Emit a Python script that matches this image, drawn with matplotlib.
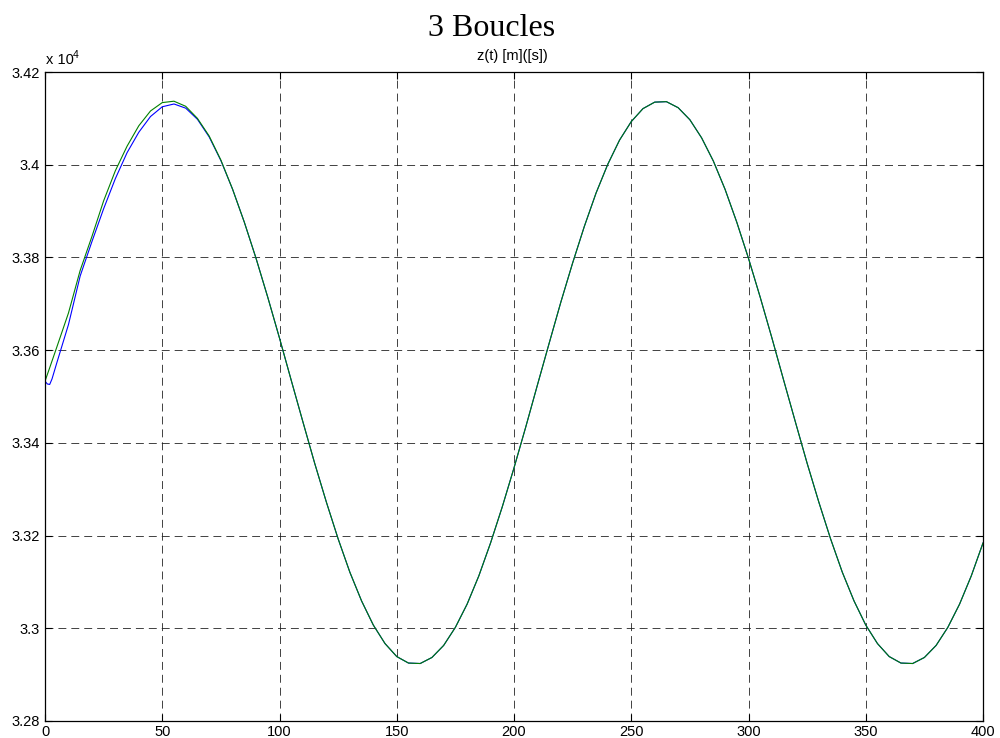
import matplotlib
matplotlib.use('Agg')
import matplotlib.pyplot as plt

# z(t) in units of 1e4 m
t_green_start = [0, 2, 5, 10, 15, 20, 25, 30, 35, 40, 45, 50, 55, 60, 65, 70, 75]
z_green_start = [3.3533, 3.3562, 3.3606, 3.3680, 3.3772, 3.3845, 3.3922, 3.3987,
                 3.4040, 3.4084, 3.4116, 3.4134, 3.4137, 3.4126, 3.4100, 3.4062, 3.4010]

t_blue_start = [0, 1, 2, 3, 5, 10, 15, 20, 25, 30, 35, 40, 45, 50, 55, 60, 65, 70, 75]
z_blue_start = [3.3533, 3.3527, 3.3526, 3.3538, 3.3572, 3.3655, 3.3760, 3.3834,
                3.3905, 3.3970, 3.4026, 3.4070, 3.4104, 3.4125, 3.4131, 3.4122,
                3.4098, 3.4060, 3.4009]

# both runs overlap from here on
t_common = list(range(80, 401, 5))
z_common = [3.3947, 3.3876, 3.3798, 3.3714, 3.3626, 3.3535, 3.3445, 3.3356,
            3.3272, 3.3193, 3.3121, 3.3059, 3.3007, 3.2967, 3.2939, 3.2925,
            3.2924, 3.2937, 3.2963, 3.3002, 3.3052, 3.3113, 3.3184, 3.3262,
            3.3346, 3.3434, 3.3525, 3.3615, 3.3704, 3.3788, 3.3867, 3.3939,
            3.4001, 3.4053, 3.4093, 3.4121, 3.4135, 3.4136, 3.4123, 3.4097,
            3.4058, 3.4008, 3.3947, 3.3876, 3.3798, 3.3714, 3.3626, 3.3535,
            3.3445, 3.3356, 3.3272, 3.3193, 3.3121, 3.3059, 3.3007, 3.2967,
            3.2939, 3.2925, 3.2924, 3.2937, 3.2963, 3.3002, 3.3052, 3.3113,
            3.3184]

x_ticks = [0, 50, 100, 150, 200, 250, 300, 350, 400]
y_ticks = [3.28, 3.30, 3.32, 3.34, 3.36, 3.38, 3.40, 3.42]
y_tick_labels = ['3.28', '3.3', '3.32', '3.34', '3.36', '3.38', '3.4', '3.42']

font = 'Liberation Sans'

fig = plt.figure(figsize=(10, 7.38), dpi=100)
fig.patch.set_facecolor('white')
ax = fig.add_axes([0.045, 17 / 738, 0.938, 649 / 738])

ax.plot(t_blue_start + t_common, z_blue_start + z_common, color='#0000ff', lw=0.8)
ax.plot(t_green_start + t_common, z_green_start + z_common, color='#008000', lw=0.8)

ax.set_xlim(0, 400)
ax.set_ylim(3.28, 3.42)
ax.set_xticks(x_ticks)
ax.set_xticklabels([str(v) for v in x_ticks], family=font)
ax.set_yticks(y_ticks)
ax.set_yticklabels(y_tick_labels, family=font)
ax.tick_params(direction='in', length=5, width=0.8, top=True, right=True,
               labelsize=10.5, colors='black')
ax.tick_params(axis='x', pad=3)
ax.tick_params(axis='y', pad=3.6)
# MATLAB-like long dashes (pattern is scaled by the 0.6 line width)
ax.grid(True, color='#222222', lw=0.6, linestyle=(0, (9.5, 6)))
ax.set_axisbelow(True)
for s in ax.spines.values():
    s.set_linewidth(0.9)
    s.set_color('black')

fig.text(0.492, 1 - 36 / 738, '3 Boucles', ha='center', va='baseline',
         family='Liberation Serif', fontsize=23)
fig.text(0.512, 1 - 60 / 738, 'z(t) [m]([s])', ha='center', va='baseline',
         family=font, fontsize=10.5)
fig.text(0.046, 1 - 64 / 738, 'x 10', ha='left', va='baseline',
         family=font, fontsize=10.5)
fig.text(0.0725, 1 - 58 / 738, '4', ha='left', va='baseline',
         family=font, fontsize=7.5)

plt.savefig('out.png', dpi=100)
plt.close()
